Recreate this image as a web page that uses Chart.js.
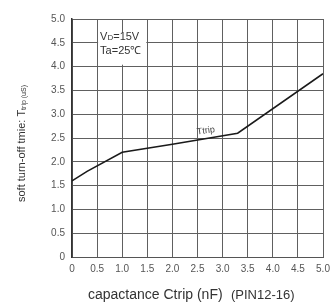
<!DOCTYPE html>
<html>
<head>
<meta charset="utf-8">
<script src="https://cdn.jsdelivr.net/npm/chart.js@4.4.0/dist/chart.umd.min.js"></script>
<style>
  body { margin: 0; background: #fff; }
  #wrap { width: 331px; height: 302px; }
</style>
</head>
<body>
<div id="wrap"><canvas id="myChart" width="331" height="302"></canvas></div>
<script>
// capacitance Ctrip (nF) and soft turn-off time Ttrip (uS)
const capValues = [0, 0.3, 1.0, 2.0, 3.3, 5.0];
const tripValues = [1.6, 1.8, 2.2, 2.37, 2.6, 3.85];
const tickValues = [0, 0.5, 1.0, 1.5, 2.0, 2.5, 3.0, 3.5, 4.0, 4.5, 5.0];

const fontName = '"Liberation Sans", Arial, sans-serif';

function tickLabel(v) {
  return v === 0 ? '0' : v.toFixed(1);
}

// 텍스트(축 제목, 조건 박스, 곡선 라벨)를 그리는 플러그인
const textPlugin = {
  id: 'textPlugin',
  afterDraw(chart) {
    const { ctx, scales } = chart;
    const x = scales.x;
    const y = scales.y;
    ctx.save();

    // 조건 박스
    const bx1 = x.getPixelForValue(0.5) + 1;
    const bx2 = x.getPixelForValue(1.5) - 1;
    const by1 = y.getPixelForValue(4.72);
    const by2 = y.getPixelForValue(4.04);
    ctx.fillStyle = '#fff';
    ctx.fillRect(bx1, by1, bx2 - bx1, by2 - by1);
    ctx.fillStyle = '#333';
    ctx.textBaseline = 'middle';
    ctx.textAlign = 'left';
    ctx.font = '11px ' + fontName;
    let tx = bx1 + 2;
    ctx.fillText('V', tx, 37);
    tx += ctx.measureText('V').width;
    ctx.font = '8px ' + fontName;
    ctx.fillText('D', tx, 38);
    tx += ctx.measureText('D').width;
    ctx.font = '11px ' + fontName;
    ctx.fillText('=15V', tx, 37);
    ctx.fillText('Ta=25\u2103', bx1 + 2, 51);

    // 곡선 라벨
    ctx.save();
    ctx.translate(197, 132);
    ctx.rotate(-0.14);
    ctx.font = '9px ' + fontName;
    ctx.fillStyle = '#444';
    ctx.fillText('Ttrip', 0, 0);
    ctx.restore();

    // x축 제목
    ctx.textAlign = 'left';
    ctx.font = '14px ' + fontName;
    ctx.fillStyle = '#333';
    ctx.fillText('capactance Ctrip (nF)', 88, 295);
    ctx.font = '13px ' + fontName;
    ctx.fillText('(PIN12-16)', 231, 295);

    // y축 제목 (아래첨자 포함)
    ctx.save();
    ctx.translate(22, 202);
    ctx.rotate(-Math.PI / 2);
    ctx.font = '11px ' + fontName;
    const main = 'soft turn-off tmie: T';
    ctx.fillText(main, 0, 0);
    const w = ctx.measureText(main).width;
    ctx.font = '7px ' + fontName;
    ctx.fillText('trip (uS)', w, 2);
    ctx.restore();

    ctx.restore();
  }
};

const ctx = document.getElementById('myChart').getContext('2d');
const chart = new Chart(ctx, {
  type: 'line',
  data: {
    datasets: [
      {
        label: 'Ttrip',
        data: capValues.map((c, i) => ({ x: c, y: tripValues[i] })),
        borderColor: '#1a1a1a',
        borderWidth: 1.6,
        pointRadius: 0,
        tension: 0,
        fill: false
      }
    ]
  },
  options: {
    responsive: false,
    animation: false,
    layout: {
      padding: { top: 19, right: 8, left: 0, bottom: 0 }
    },
    plugins: {
      legend: { display: false },
      tooltip: { enabled: false }
    },
    scales: {
      x: {
        type: 'linear',
        min: 0,
        max: 5,
        afterBuildTicks: scale => {
          scale.ticks = tickValues.map(v => ({ value: v }));
        },
        afterFit: scale => {
          scale.height = 45;
          scale.paddingLeft = 0;
          scale.paddingRight = 0;
        },
        grid: { color: '#606060', lineWidth: 1, drawTicks: false },
        border: { color: '#555', width: 1 },
        ticks: {
          padding: 6,
          color: '#555',
          font: { family: fontName, size: 10 },
          maxRotation: 0,
          autoSkip: false,
          callback: v => tickLabel(v)
        }
      },
      y: {
        type: 'linear',
        min: 0,
        max: 5,
        afterBuildTicks: scale => {
          scale.ticks = tickValues.map(v => ({ value: v }));
        },
        afterFit: scale => {
          scale.width = 72;
          scale.paddingTop = 0;
          scale.paddingBottom = 0;
        },
        grid: { color: '#606060', lineWidth: 1, drawTicks: false },
        border: { color: '#333', width: 1.5 },
        ticks: {
          padding: 7,
          color: '#555',
          font: { family: fontName, size: 10 },
          autoSkip: false,
          callback: v => tickLabel(v)
        }
      }
    }
  },
  plugins: [textPlugin]
});
</script>
</body>
</html>
